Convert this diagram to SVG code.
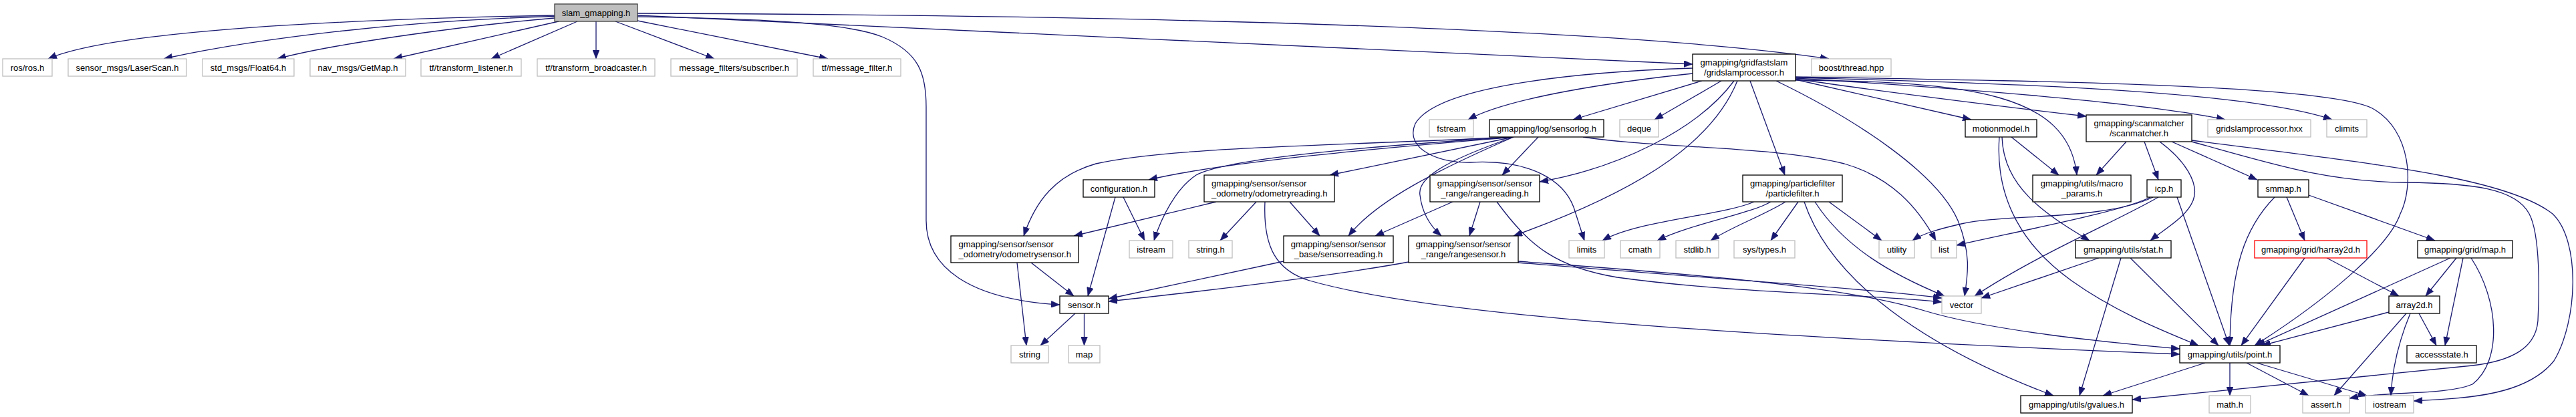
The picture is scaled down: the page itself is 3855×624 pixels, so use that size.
<svg xmlns="http://www.w3.org/2000/svg" width="3855" height="624" viewBox="0 0 3855 624">
<style>
rect{fill:#fff;stroke-width:1.3}
.k{stroke:#000}
.g{stroke:#bfbfbf}
.r{stroke:#404040;fill:#bfbfbf}
.h{stroke:#ff0000}
text{font-family:"Liberation Sans",Arial,sans-serif;font-size:13px;fill:#000;text-anchor:middle}
text.l{text-anchor:start}
#edges path{fill:none;stroke:#191970;stroke-width:1.3;marker-end:url(#a)}
</style>
<defs>
<marker id="a" markerUnits="userSpaceOnUse" markerWidth="13" markerHeight="10" refX="13" refY="5" orient="auto"><path d="M0,0L13,5L0,10z" fill="#191970" stroke="#191970" stroke-width="0.5"/></marker>
</defs>
<rect x="0" y="0" width="3855" height="624" style="fill:#fff;stroke:none"/>
<g id="edges">
<path d="M830,23 C450,30 160,50 72,88"/>
<path d="M830,24.5 C600,31 380,58 245,88"/>
<path d="M830,27 C700,38 500,65 415,88"/>
<path d="M836,32 L589,88"/>
<path d="M864,32 L735,88"/>
<path d="M892,32 L892,88"/>
<path d="M921,32 L1069,88"/>
<path d="M954,31 L1239,88"/>
<path d="M954,20 C1600,22 2400,38 2737,88"/>
<path d="M954,23 C1400,40 2100,80 2533,96"/>
<path d="M954,25 C1150,28 1270,35 1320,55 C1375,78 1386,110 1386,160 L1386,330 C1386,400 1450,448 1586,456"/>
<path d="M2533,110 C2420,122 2260,145 2197,179"/>
<path d="M2547,121 L2354,179"/>
<path d="M2576,121 L2476,179"/>
<path d="M2595,121 C2540,195 2420,252 2304,272"/>
<path d="M2600,121 C2560,220 2440,290 2265,353"/>
<path d="M2619,121 L2671,262"/>
<path d="M2687,119 L2950,179"/>
<path d="M2687,118 C2800,135 3000,160 3122,174"/>
<path d="M2687,120 C2950,122 3095,140 3108,262"/>
<path d="M2687,117 C2900,130 3200,152 3330,179"/>
<path d="M2687,116 C2950,124 3350,132 3490,179"/>
<path d="M2687,115 C3100,122 3480,128 3550,162 C3610,195 3612,280 3592,320 C3575,370 3480,450 3374,517"/>
<path d="M2533,102 C2350,108 2150,130 2118,185 C2100,225 2160,245 2200,243 C2290,238 2340,270 2355,310 L2371,360"/>
<path d="M2658,121 C2780,180 2900,260 2930,330 C2950,380 2945,410 2940,443"/>
<path d="M2265,205 C2150,215 1850,238 1719,269"/>
<path d="M2265,205 L1990,262"/>
<path d="M2265,205 C2000,218 1750,220 1640,245 C1580,262 1550,300 1532,353"/>
<path d="M2265,205 C2000,222 1830,240 1790,262 C1760,282 1738,325 1727,360"/>
<path d="M2265,205 C2150,255 2060,300 2018,353"/>
<path d="M2265,205 C2180,235 2120,262 2125,292 C2128,318 2140,338 2157,353"/>
<path d="M2302,205 L2248,262"/>
<path d="M2369,205 C2480,222 2650,218 2760,245 C2830,265 2870,310 2897,360"/>
<path d="M1820,302 L1607,353"/>
<path d="M1880,302 L1826,360"/>
<path d="M1893,302 C1890,370 1910,405 1960,420 C2100,460 2400,495 3262,530"/>
<path d="M1930,302 L1975,353"/>
<path d="M1522,393 L1536,517"/>
<path d="M1543,393 L1607,443"/>
<path d="M1669,295 L1628,443"/>
<path d="M1681,295 L1713,360"/>
<path d="M1609,469 L1557,517"/>
<path d="M1622.5,469 L1622.5,517"/>
<path d="M1921,391 L1659,447"/>
<path d="M2174,302 L2058,353"/>
<path d="M2215,302 L2199,353"/>
<path d="M2240,302 C2290,370 2330,400 2420,415 C2600,440 2800,440 2906,452"/>
<path d="M2108,392 C2000,412 1800,436 1659,451"/>
<path d="M2272,391 C2500,408 2750,425 2880,465 C2980,495 3150,512 3262,522"/>
<path d="M2272,393 C2500,412 2800,432 2906,446"/>
<path d="M2625,302 C2580,322 2450,330 2398,360"/>
<path d="M2650,302 C2620,320 2530,335 2480,360"/>
<path d="M2672,302 C2640,322 2590,340 2560,360"/>
<path d="M2691,302 L2650,360"/>
<path d="M2700,302 C2740,420 2880,520 3073,592"/>
<path d="M2716,302 C2760,370 2830,410 2910,443"/>
<path d="M2737,302 L2816,360"/>
<path d="M3010,205 L3081,262"/>
<path d="M2992,205 C2985,300 3030,370 3100,420 C3170,470 3250,500 3290,517"/>
<path d="M2996,205 C2998,280 3060,320 3127,360"/>
<path d="M3182,212 L3137,262"/>
<path d="M3209,212 L3230,269"/>
<path d="M3250,212 L3378,269"/>
<path d="M3232,212 C3270,240 3292,275 3282,300 C3272,325 3240,342 3218,360"/>
<path d="M3280,210 C3550,245 3750,265 3820,320 C3862,360 3858,480 3822,540 C3782,590 3700,596 3612,600"/>
<path d="M3280,212 C3400,245 3480,272 3600,273 C3700,274 3765,282 3785,320 C3802,352 3800,440 3798,480 C3795,520 3760,540 3700,547 L3191,598"/>
<path d="M3222,295 C3150,330 3000,320 2935,335 C2900,343 2876,350 2862,360"/>
<path d="M3218,295 C3180,315 3050,340 2928,367"/>
<path d="M3230,295 C3170,330 3050,380 2955,443"/>
<path d="M3258,295 L3336,517"/>
<path d="M3141,386 L2965,446"/>
<path d="M3174,386 L3112,592"/>
<path d="M3188,386 L3320,517"/>
<path d="M3404,295 C3360,340 3338,400 3337,517"/>
<path d="M3422,295 L3449,360"/>
<path d="M3455,292 L3644,360"/>
<path d="M3449,386 L3354,517"/>
<path d="M3482,386 L3590,443"/>
<path d="M3667,386 L3377,517"/>
<path d="M3676,386 L3630,443"/>
<path d="M3686,386 L3659,517"/>
<path d="M3698,386 C3740,450 3745,540 3700,575 C3660,592 3570,585 3516,596"/>
<path d="M3575,467 L3385,517"/>
<path d="M3601,469 L3493,592"/>
<path d="M3607,469 C3590,510 3580,550 3578,592"/>
<path d="M3620,469 L3646,517"/>
<path d="M3337,543 L3337,592"/>
<path d="M3362,543 L3455,592"/>
<path d="M3377,543 L3542,592"/>
<path d="M3300,543 L3147,592"/>
</g>
<g id="n_root"><rect class="r" x="830" y="6" width="124" height="26"/><text x="892" y="23.5">slam_gmapping.h</text></g>
<g id="n_ros"><rect class="g" x="4" y="88" width="74" height="26"/><text x="41" y="105.5">ros/ros.h</text></g>
<g id="n_laserscan"><rect class="g" x="102" y="88" width="177" height="26"/><text x="190.5" y="105.5">sensor_msgs/LaserScan.h</text></g>
<g id="n_float64"><rect class="g" x="303" y="88" width="137" height="26"/><text x="371.5" y="105.5">std_msgs/Float64.h</text></g>
<g id="n_getmap"><rect class="g" x="464" y="88" width="143" height="26"/><text x="535.5" y="105.5">nav_msgs/GetMap.h</text></g>
<g id="n_listener"><rect class="g" x="630" y="88" width="150" height="26"/><text x="705" y="105.5">tf/transform_listener.h</text></g>
<g id="n_broadcaster"><rect class="g" x="804" y="88" width="176" height="26"/><text x="892" y="105.5">tf/transform_broadcaster.h</text></g>
<g id="n_subscriber"><rect class="g" x="1004" y="88" width="189" height="26"/><text x="1098.5" y="105.5">message_filters/subscriber.h</text></g>
<g id="n_msgfilter"><rect class="g" x="1217" y="88" width="131" height="26"/><text x="1282.5" y="105.5">tf/message_filter.h</text></g>
<g id="n_gsp"><rect class="k" x="2533" y="81" width="154" height="40"/><text x="2610" y="98">gmapping/gridfastslam</text><text x="2610" y="112.5">/gridslamprocessor.h</text></g>
<g id="n_boost"><rect class="g" x="2711" y="88" width="119" height="26"/><text x="2770.5" y="105.5">boost/thread.hpp</text></g>
<g id="n_fstream"><rect class="g" x="2139" y="179" width="66" height="26"/><text x="2172" y="196.5">fstream</text></g>
<g id="n_sensorlog"><rect class="k" x="2229" y="179" width="171" height="26"/><text x="2314.5" y="196.5">gmapping/log/sensorlog.h</text></g>
<g id="n_deque"><rect class="g" x="2424" y="179" width="58" height="26"/><text x="2453" y="196.5">deque</text></g>
<g id="n_motionmodel"><rect class="k" x="2941" y="179" width="107" height="26"/><text x="2994.5" y="196.5">motionmodel.h</text></g>
<g id="n_scanmatcher"><rect class="k" x="3122" y="172" width="158" height="40"/><text x="3201" y="189">gmapping/scanmatcher</text><text x="3201" y="203.5">/scanmatcher.h</text></g>
<g id="n_gsphxx"><rect class="g" x="3304" y="179" width="154" height="26"/><text x="3381" y="196.5">gridslamprocessor.hxx</text></g>
<g id="n_climits"><rect class="g" x="3482" y="179" width="60" height="26"/><text x="3512" y="196.5">climits</text></g>
<g id="n_configuration"><rect class="k" x="1621" y="269" width="107" height="26"/><text x="1674.5" y="286.5">configuration.h</text></g>
<g id="n_odomreading"><rect class="k" x="1802" y="262" width="195" height="40"/><text class="l" x="1813" y="279">gmapping/sensor/sensor</text><text class="l" x="1813" y="293.5">_odometry/odometryreading.h</text></g>
<g id="n_rangereading"><rect class="k" x="2140" y="262" width="164" height="40"/><text x="2222" y="279">gmapping/sensor/sensor</text><text x="2222" y="293.5">_range/rangereading.h</text></g>
<g id="n_particlefilter"><rect class="k" x="2608" y="262" width="149" height="40"/><text x="2682.5" y="279">gmapping/particlefilter</text><text x="2682.5" y="293.5">/particlefilter.h</text></g>
<g id="n_macroparams"><rect class="k" x="3042" y="262" width="147" height="40"/><text x="3115.5" y="279">gmapping/utils/macro</text><text x="3115.5" y="293.5">_params.h</text></g>
<g id="n_icp"><rect class="k" x="3213" y="269" width="51" height="26"/><text x="3238.5" y="286.5">icp.h</text></g>
<g id="n_smmap"><rect class="k" x="3379" y="269" width="76" height="26"/><text x="3417" y="286.5">smmap.h</text></g>
<g id="n_odomsensor"><rect class="k" x="1423" y="353" width="191" height="40"/><text class="l" x="1434.5" y="370">gmapping/sensor/sensor</text><text class="l" x="1434.5" y="384.5">_odometry/odometrysensor.h</text></g>
<g id="n_istream"><rect class="g" x="1690" y="360" width="65" height="26"/><text x="1722.5" y="377.5">istream</text></g>
<g id="n_stringh"><rect class="g" x="1779" y="360" width="65" height="26"/><text x="1811.5" y="377.5">string.h</text></g>
<g id="n_sensorreading"><rect class="k" x="1921" y="353" width="164" height="40"/><text x="2003" y="370">gmapping/sensor/sensor</text><text x="2003" y="384.5">_base/sensorreading.h</text></g>
<g id="n_rangesensor"><rect class="k" x="2108" y="353" width="164" height="40"/><text x="2190" y="370">gmapping/sensor/sensor</text><text x="2190" y="384.5">_range/rangesensor.h</text></g>
<g id="n_limits"><rect class="g" x="2348" y="360" width="53" height="26"/><text x="2374.5" y="377.5">limits</text></g>
<g id="n_cmath"><rect class="g" x="2425" y="360" width="59" height="26"/><text x="2454.5" y="377.5">cmath</text></g>
<g id="n_stdlib"><rect class="g" x="2508" y="360" width="64" height="26"/><text x="2540" y="377.5">stdlib.h</text></g>
<g id="n_systypes"><rect class="g" x="2595" y="360" width="91" height="26"/><text x="2640.5" y="377.5">sys/types.h</text></g>
<g id="n_utility"><rect class="g" x="2812" y="360" width="53" height="26"/><text x="2838.5" y="377.5">utility</text></g>
<g id="n_list"><rect class="g" x="2890" y="360" width="38" height="26"/><text x="2909" y="377.5">list</text></g>
<g id="n_stat"><rect class="k" x="3106" y="360" width="143" height="26"/><text x="3177.5" y="377.5">gmapping/utils/stat.h</text></g>
<g id="n_harray2d"><rect class="h" x="3374" y="360" width="168" height="26"/><text x="3458" y="377.5">gmapping/grid/harray2d.h</text></g>
<g id="n_gridmap"><rect class="k" x="3618" y="360" width="142" height="26"/><text x="3689" y="377.5">gmapping/grid/map.h</text></g>
<g id="n_sensorh"><rect class="k" x="1586" y="443" width="73" height="26"/><text x="1622.5" y="460.5">sensor.h</text></g>
<g id="n_vector"><rect class="g" x="2906" y="443" width="59" height="26"/><text x="2935.5" y="460.5">vector</text></g>
<g id="n_array2d"><rect class="k" x="3575" y="443" width="76" height="26"/><text x="3613" y="460.5">array2d.h</text></g>
<g id="n_string"><rect class="g" x="1513" y="517" width="56" height="26"/><text x="1541" y="534.5">string</text></g>
<g id="n_map"><rect class="g" x="1599" y="517" width="47" height="26"/><text x="1622.5" y="534.5">map</text></g>
<g id="n_point"><rect class="k" x="3262" y="517" width="150" height="26"/><text x="3337" y="534.5">gmapping/utils/point.h</text></g>
<g id="n_accessstate"><rect class="k" x="3602" y="517" width="104" height="26"/><text x="3654" y="534.5">accessstate.h</text></g>
<g id="n_gvalues"><rect class="k" x="3024" y="592" width="167" height="26"/><text x="3107.5" y="609.5">gmapping/utils/gvalues.h</text></g>
<g id="n_math"><rect class="g" x="3306" y="592" width="62" height="26"/><text x="3337" y="609.5">math.h</text></g>
<g id="n_assert"><rect class="g" x="3446" y="592" width="70" height="26"/><text x="3481" y="609.5">assert.h</text></g>
<g id="n_iostream"><rect class="g" x="3540" y="592" width="72" height="26"/><text x="3576" y="609.5">iostream</text></g>
</svg>
